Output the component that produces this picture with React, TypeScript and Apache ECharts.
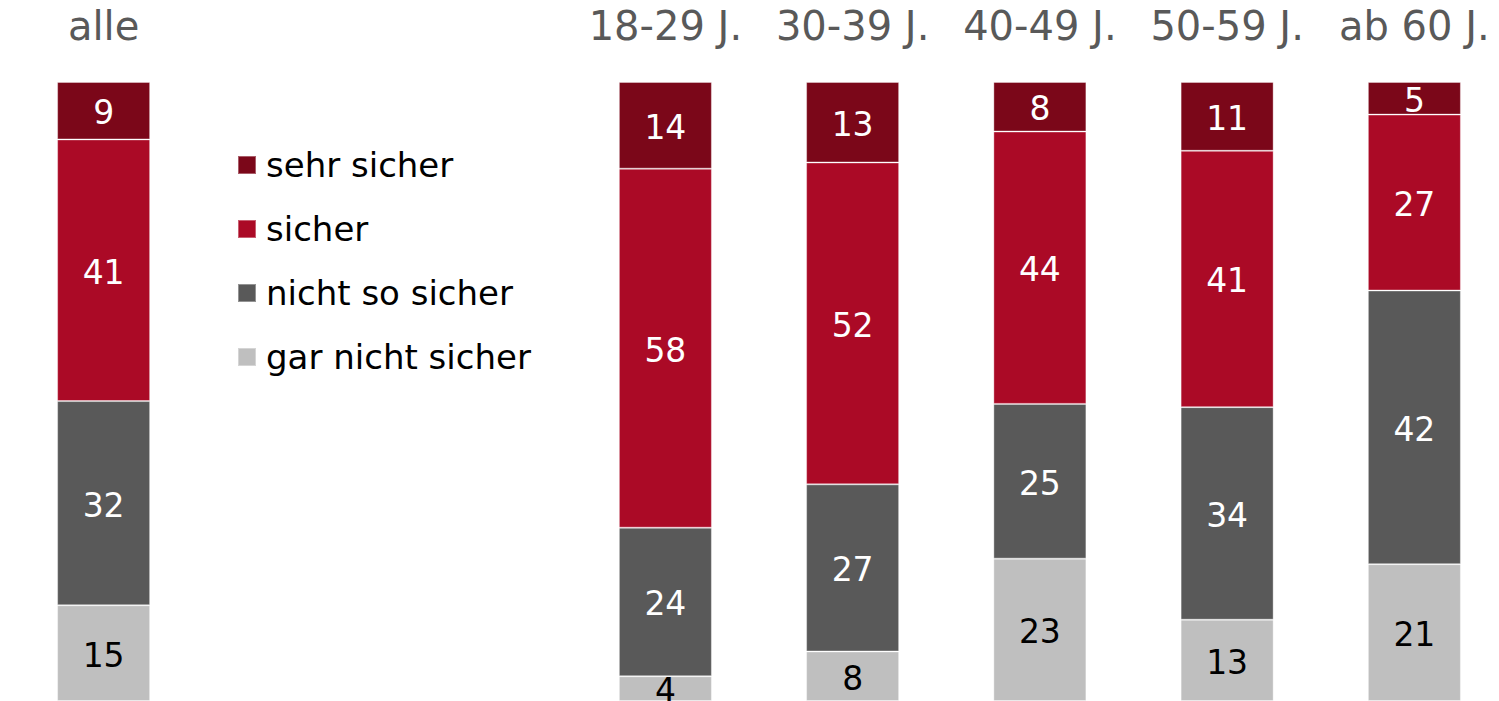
import React, { useEffect, useRef } from "react";
import * as echarts from "echarts";

const categories = ["alle", "", "", "18-29 J.", "30-39 J.", "40-49 J.", "50-59 J.", "ab 60 J."];
const seriesNames = ["sehr sicher", "sicher", "nicht so sicher", "gar nicht sicher"];
const sehrSicher = [9, null, null, 14, 13, 8, 11, 5];
const sicher = [41, null, null, 58, 52, 44, 41, 27];
const nichtSoSicher = [32, null, null, 24, 27, 25, 34, 42];
const garNichtSicher = [15, null, null, 4, 8, 23, 13, 21];
const colors = ["#7B0719", "#AB0A26", "#595959", "#BFBFBF"];
const labelColors = ["#FFFFFF", "#FFFFFF", "#FFFFFF", "#000000"];

const FONT = "DejaVu Sans, Verdana, sans-serif";

export default function App() {
  const ref = useRef<HTMLDivElement>(null);
  useEffect(() => {
    if (!ref.current) return;
    const chart = echarts.init(ref.current, undefined, { renderer: "svg" });
    const raw = [sehrSicher, sicher, nichtSoSicher, garNichtSicher];
    const totals = categories.map((_, i) =>
      raw.reduce((s, arr) => s + (arr[i] ?? 0), 0)
    );
    // stack bottom to top: gar nicht, nicht so, sicher, sehr sicher
    const order = [3, 2, 1, 0];
    const series = order.map((k) => ({
      name: seriesNames[k],
      type: "bar",
      stack: "total",
      barWidth: 93,
      itemStyle: { color: colors[k], borderColor: "rgba(255,255,255,0.35)", borderWidth: 1 },
      label: {
        show: true,
        position: "inside",
        offset: [0, 2],
        color: labelColors[k],
        fontSize: 33,
        fontFamily: FONT,
        formatter: (p: any) => String(raw[k][p.dataIndex]),
      },
      data: raw[k].map((v, i) => (v == null ? "-" : (v / totals[i]) * 100)),
    }));
    chart.setOption({
      animation: false,
      color: colors,
      grid: { left: 10, top: 82, width: 1498, height: 622 },
      legend: {
        data: seriesNames,
        orient: "vertical",
        left: 237,
        top: 148,
        padding: 0,
        itemWidth: 18,
        itemHeight: 18,
        itemGap: 30,
        icon: "rect",
        textStyle: {
          fontSize: 34,
          fontFamily: FONT,
          color: "#000000",
          lineHeight: 34,
          padding: [0, 0, 0, 5],
        },
        selectedMode: false,
      },
      xAxis: {
        type: "category",
        data: categories,
        position: "top",
        axisLine: { show: false },
        axisTick: { show: false },
        axisLabel: { fontSize: 40, fontFamily: FONT, color: "#595959", margin: 36, interval: 0 },
      },
      yAxis: { type: "value", min: 0, max: 100, show: false },
      series,
    });
    return () => chart.dispose();
  }, []);
  return (
    <div style={{ position: "absolute", left: 0, top: 0, width: 1499, height: 701, overflow: "hidden" }}>
      <div ref={ref} style={{ width: 1530, height: 701 }} />
    </div>
  );
}
